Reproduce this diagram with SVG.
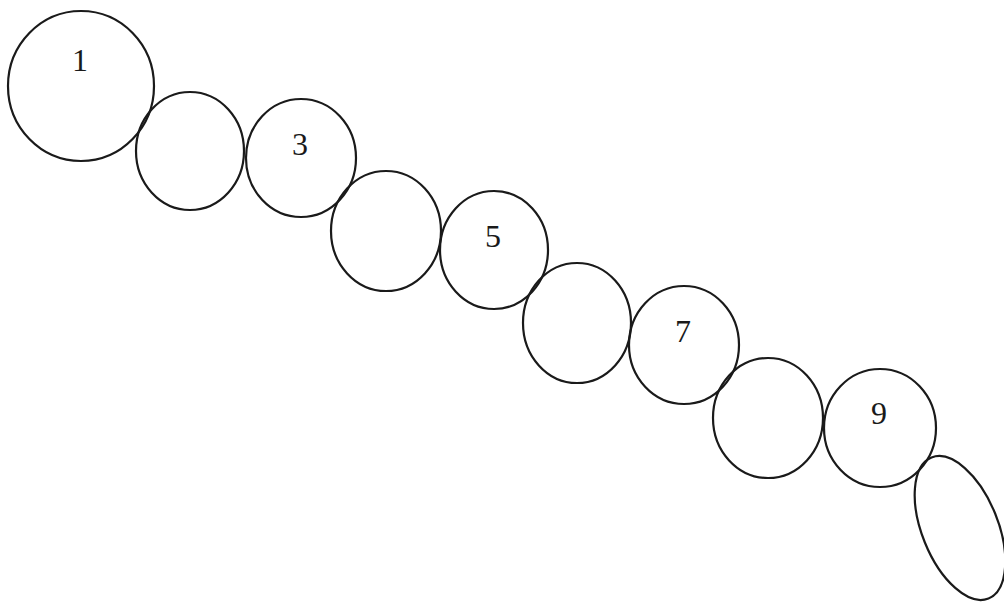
<svg xmlns="http://www.w3.org/2000/svg" width="1004" height="604" viewBox="0 0 1004 604">
<style>
.c{fill:none;stroke:#1a1a1a;stroke-width:2.2}
.t{font-family:"Liberation Serif","Times New Roman",serif;font-size:32px;fill:#1a1a1a;text-anchor:middle}
</style>
<rect width="1004" height="604" fill="#ffffff"/>
<g id="n1"><ellipse class="c" cx="81" cy="86" rx="73" ry="75"/><text class="t" x="80" y="71">1</text></g>
<g id="n2"><ellipse class="c" cx="190" cy="151" rx="54" ry="59"/></g>
<g id="n3"><ellipse class="c" cx="301" cy="158" rx="55" ry="59"/><text class="t" x="300" y="155">3</text></g>
<g id="n4"><ellipse class="c" cx="386" cy="231" rx="55" ry="60"/></g>
<g id="n5"><ellipse class="c" cx="494" cy="250" rx="54" ry="59"/><text class="t" x="493" y="247">5</text></g>
<g id="n6"><ellipse class="c" cx="577" cy="323" rx="54" ry="60"/></g>
<g id="n7"><ellipse class="c" cx="684" cy="345" rx="55" ry="59"/><text class="t" x="683" y="342">7</text></g>
<g id="n8"><ellipse class="c" cx="768" cy="418" rx="55" ry="60"/></g>
<g id="n9"><ellipse class="c" cx="880" cy="428" rx="56" ry="59"/><text class="t" x="879" y="424">9</text></g>
<g id="n10"><ellipse class="c" cx="960" cy="528" rx="38" ry="76" transform="rotate(-22 960 528)"/></g>
<g id="connectors"></g>
</svg>
